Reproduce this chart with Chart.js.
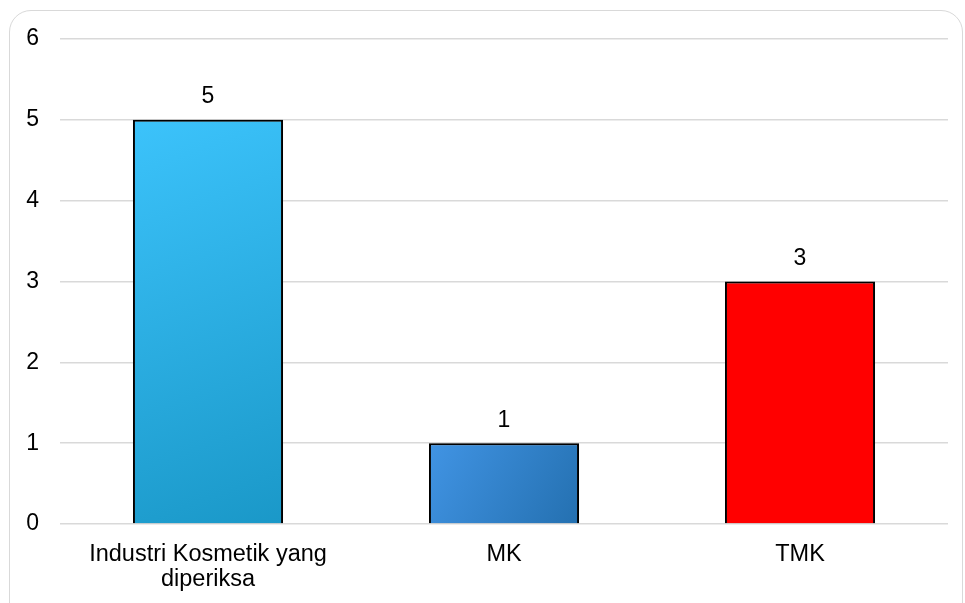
<!DOCTYPE html>
<html>
<head>
<meta charset="utf-8">
<script src="https://cdn.jsdelivr.net/npm/chart.js@4"></script>
<style>
  html, body { margin: 0; padding: 0; background: #fff; }
  #wrap { position: relative; width: 965px; height: 603px; overflow: hidden; }
  #frame { position: absolute; left: 9px; top: 10px; width: 954px; height: 640px;
           border: 1.5px solid #d9d9d9; border-radius: 22px; box-sizing: border-box; }
  canvas { position: absolute; left: 0; top: 0; }
</style>
</head>
<body>
<div id="wrap">
  <div id="frame"></div>
  <canvas id="grafik" width="965" height="603"></canvas>
</div>
<script>
var kategori = [["Industri Kosmetik yang", "diperiksa"], "MK", "TMK"];
var nilai = [5, 1, 3];
var labelSumbuY = [0, 1, 2, 3, 4, 5, 6];

// warna gradasi tiap batang
var warnaBatang = [
    ['#3cc3fb', '#1a98c8'],
    ['#4194e4', '#2470b0'],
    ['#ff0000', '#ff0000']
];

function isiBatang(ctx) {
    var chart = ctx.chart;
    var w = warnaBatang[ctx.dataIndex];
    var sx = chart.scales.x, sy = chart.scales.y;
    if (!chart.chartArea || !sx || !sy) return w[0];
    var xc = sx.getPixelForValue(ctx.dataIndex);
    var half = sx.width / kategori.length * 0.507 / 2;
    var yTop = sy.getPixelForValue(nilai[ctx.dataIndex]);
    var yBase = sy.getPixelForValue(0);
    var g = chart.ctx.createLinearGradient(xc - half, yTop, xc + half, yBase);
    g.addColorStop(0, w[0]);
    g.addColorStop(1, w[1]);
    return g;
}

var labelNilai = {
    id: 'labelNilai',
    beforeDatasetsDraw: function (chart) {
        var c = chart.ctx;
        c.save();
        c.shadowColor = 'rgba(0,0,0,0.35)';
        c.shadowBlur = 8;
        c.shadowOffsetX = 2;
        c.shadowOffsetY = 1;
    },
    afterDatasetsDraw: function (chart) {
        var c = chart.ctx;
        c.restore();
        c.save();
        c.font = '23px "Liberation Sans", Arial, sans-serif';
        c.fillStyle = '#000';
        c.textAlign = 'center';
        c.textBaseline = 'middle';
        chart.getDatasetMeta(0).data.forEach(function (bar, i) {
            c.fillText(String(nilai[i]), bar.x, bar.y - 23);
        });
        c.restore();
    }
};

new Chart(document.getElementById('grafik'), {
    type: 'bar',
    data: {
        labels: kategori,
        datasets: [{
            data: nilai,
            backgroundColor: isiBatang,
            borderColor: '#000',
            borderWidth: 2,
            categoryPercentage: 1,
            barPercentage: 0.507
        }]
    },
    options: {
        responsive: false,
        animation: false,
        layout: { padding: { left: 16, right: 17, top: 39, bottom: 0 } },
        plugins: {
            legend: { display: false },
            tooltip: { enabled: false }
        },
        scales: {
            x: {
                afterFit: function (s) { s.height = 79; },
                grid: { display: false },
                border: { display: false },
                ticks: {
                    color: '#000',
                    padding: 10,
                    maxRotation: 0,
                    autoSkip: false,
                    font: { family: '"Liberation Sans", Arial, sans-serif', size: 23.5, lineHeight: 1.07 }
                }
            },
            y: {
                min: 0,
                max: 6,
                afterFit: function (s) { s.width = 44; },
                afterBuildTicks: function (s) {
                    s.ticks = labelSumbuY.map(function (v) { return { value: v }; });
                },
                grid: { color: '#d9d9d9', lineWidth: 1.5, drawTicks: false },
                border: { display: false },
                ticks: {
                    color: '#000',
                    padding: 21,
                    font: { family: '"Liberation Sans", Arial, sans-serif', size: 23 }
                }
            }
        }
    },
    plugins: [labelNilai]
});
</script>
</body>
</html>
